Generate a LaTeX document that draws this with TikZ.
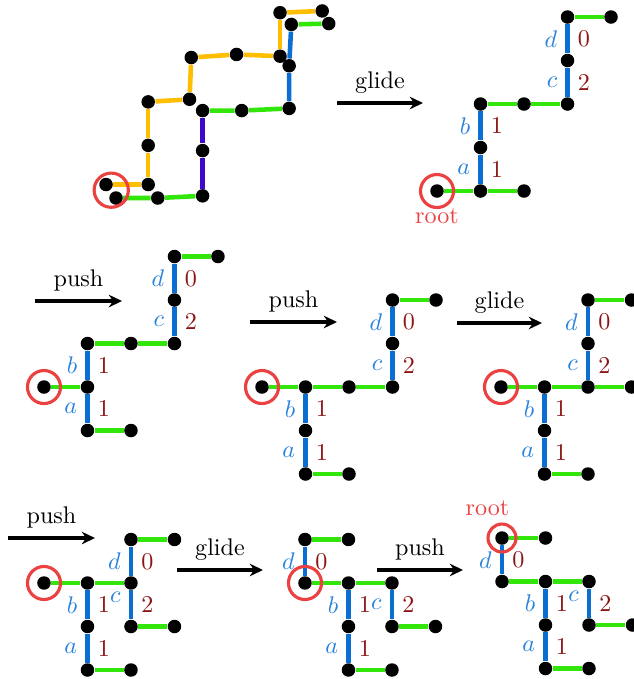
\documentclass[tikz,border=0pt]{standalone}
\usepackage{tikz}
\usetikzlibrary{arrows.meta, positioning, backgrounds}

\definecolor{bondgreen}{RGB}{50,230,10}
\definecolor{bondblue}{RGB}{10,110,210}
\definecolor{bondpurple}{RGB}{60,10,200}
\definecolor{trailorange}{RGB}{255,190,0}
\definecolor{ringred}{RGB}{235,65,65}
\definecolor{symblue}{RGB}{40,130,220}
\definecolor{numred}{RGB}{140,20,20}

\begin{document}
\begin{tikzpicture}[
        x=18.05pt, y=18.05pt,
        vertex/.style={circle, fill=black, minimum size=5.6pt, inner sep=0pt},
        link/.style={draw=bondgreen, line width=1.9pt},
        bond/.style={draw=bondblue, line width=1.9pt},
        twist/.style={draw=bondpurple, line width=1.9pt},
        trail/.style={draw=trailorange, line width=1.9pt},
        ring/.style={circle, draw=ringred, line width=1.3pt, minimum size=13.7pt, inner sep=0pt},
        rootlbl/.style={text=ringred, inner sep=1pt},
        sym/.style={left, text=symblue},
        num/.style={right, text=numred},
        move/.style={-{Stealth[length=5.5pt, width=5.2pt, inset=1.8pt]}, line width=1.4pt}
    ]

        \useasboundingbox (0,0) rectangle (14.552,-15.609);

        % ---- Starting configuration ----
        \begin{scope}[shift={(2.667,-4.552)}]
            \foreach \n/\x/\y in {0/-0.23/0.31, 1/0.74/0.31, 2/0.74/1.21, 3/0.74/2.21, 4/1.69/2.27,
                                  5/1.73/3.23, 6/2.77/3.30, 7/3.77/3.26, 8/3.77/4.26, 9/4.74/4.30}
                \node[vertex] (Ao\n) at (\x,\y) {};
            \foreach \n/\x/\y in {0/0/0, 1/0.96/0, 2/1.99/0.05, 3/1.99/1.09, 4/1.99/2.01,
                                  5/2.89/2.01, 6/3.98/2.06, 7/3.98/3.04, 8/4.03/3.99, 9/4.89/4.01}
                \node[vertex] (Ak\n) at (\x,\y) {};
            \begin{pgfonlayer}{background}
                \foreach \i [count=\j] in {0,...,8}
                    \draw[trail] (Ao\i) -- (Ao\j);
                \draw[link] (Ak0) -- (Ak1) -- (Ak2);
                \draw[twist] (Ak2) -- (Ak3) -- (Ak4);
                \draw[link] (Ak4) -- (Ak5) -- (Ak6);
                \draw[bond] (Ak6) -- (Ak7) -- (Ak8);
                \draw[link] (Ak8) -- (Ak9);
            \end{pgfonlayer}
            \node[ring, minimum size=14.2pt] (Aring) at (-0.11,0.18) {};
        \end{scope}

        % ---- After glide ----
        \begin{scope}[shift={(10.046,-4.391)}]
            \foreach \n/\x/\y in {r/0/0, a0/1/0, l1/2/0, ab/1/1, b1/1/2, m/2/2, c0/3/2, cd/3/3, d1/3/4, l2/4/4}
                \node[vertex] (B\n) at (\x,\y) {};
            \begin{pgfonlayer}{background}
                \draw[link] (Br) -- (Ba0) -- (Bl1);
                \draw[link] (Bb1) -- (Bm) -- (Bc0);
                \draw[link] (Bd1) -- (Bl2);
                \draw[bond] (Ba0) -- node[sym] {$a$} node[num] {1} (Bab);
                \draw[bond] (Bab) -- node[sym] {$b$} node[num] {1} (Bb1);
                \draw[bond] (Bc0) -- node[sym] {$c$} node[num] {2} (Bcd);
                \draw[bond] (Bcd) -- node[sym] {$d$} node[num] {0} (Bd1);
            \end{pgfonlayer}
            \node[ring] (Bring) at (Br) {};
            \node[rootlbl, below=-1.2pt of Bring] (Broot) {root};
        \end{scope}

        % ---- Second row ----
        \begin{scope}[shift={(1.011,-8.897)}]
            \foreach \n/\x/\y in {r/0/0, a0/1/-1, l1/2/-1, ab/1/0, b1/1/1, m/2/1, c0/3/1, cd/3/2, d1/3/3, l2/4/3}
                \node[vertex] (C\n) at (\x,\y) {};
            \begin{pgfonlayer}{background}
                \draw[link] (Cr) -- (Cab);
                \draw[link] (Ca0) -- (Cl1);
                \draw[link] (Cb1) -- (Cm) -- (Cc0);
                \draw[link] (Cd1) -- (Cl2);
                \draw[bond] (Ca0) -- node[sym] {$a$} node[num] {1} (Cab);
                \draw[bond] (Cab) -- node[sym] {$b$} node[num] {1} (Cb1);
                \draw[bond] (Cc0) -- node[sym] {$c$} node[num] {2} (Ccd);
                \draw[bond] (Ccd) -- node[sym] {$d$} node[num] {0} (Cd1);
            \end{pgfonlayer}
            \node[ring] (Cring) at (Cr) {};
        \end{scope}

        \begin{scope}[shift={(6.023,-8.897)}]
            \foreach \n/\x/\y in {r/0/0, b1/1/0, m/2/0, c0/3/0, ab/1/-1, a0/1/-2, l1/2/-2, cd/3/1, d1/3/2, l2/4/2}
                \node[vertex] (D\n) at (\x,\y) {};
            \begin{pgfonlayer}{background}
                \draw[link] (Dr) -- (Db1) -- (Dm) -- (Dc0);
                \draw[link] (Da0) -- (Dl1);
                \draw[link] (Dd1) -- (Dl2);
                \draw[bond] (Da0) -- node[sym] {$a$} node[num] {1} (Dab);
                \draw[bond] (Dab) -- node[sym] {$b$} node[num] {1} (Db1);
                \draw[bond] (Dc0) -- node[sym] {$c$} node[num] {2} (Dcd);
                \draw[bond] (Dcd) -- node[sym] {$d$} node[num] {0} (Dd1);
            \end{pgfonlayer}
            \node[ring] (Dring) at (Dr) {};
        \end{scope}

        \begin{scope}[shift={(11.517,-8.897)}]
            \foreach \n/\x/\y in {r/0/0, b1/1/0, c0/2/0, m/3/0, ab/1/-1, a0/1/-2, l1/2/-2, cd/2/1, d1/2/2, l2/3/2}
                \node[vertex] (E\n) at (\x,\y) {};
            \begin{pgfonlayer}{background}
                \draw[link] (Er) -- (Eb1) -- (Ec0) -- (Em);
                \draw[link] (Ea0) -- (El1);
                \draw[link] (Ed1) -- (El2);
                \draw[bond] (Ea0) -- node[sym] {$a$} node[num] {1} (Eab);
                \draw[bond] (Eab) -- node[sym] {$b$} node[num] {1} (Eb1);
                \draw[bond] (Ec0) -- node[sym] {$c$} node[num] {2} (Ecd);
                \draw[bond] (Ecd) -- node[sym] {$d$} node[num] {0} (Ed1);
            \end{pgfonlayer}
            \node[ring] (Ering) at (Er) {};
        \end{scope}

        % ---- Third row ----
        \begin{scope}[shift={(1.011,-13.402)}]
            \foreach \n/\x/\y in {r/0/0, b1/1/0, cd/2/0, ab/1/-1, a0/1/-2, l1/2/-2, d1/2/1, l2/3/1, c0/2/-1, m/3/-1}
                \node[vertex] (F\n) at (\x,\y) {};
            \begin{pgfonlayer}{background}
                \draw[link] (Fr) -- (Fb1) -- (Fcd);
                \draw[link] (Fa0) -- (Fl1);
                \draw[link] (Fd1) -- (Fl2);
                \draw[link] (Fc0) -- (Fm);
                \draw[bond] (Fa0) -- node[sym] {$a$} node[num] {1} (Fab);
                \draw[bond] (Fab) -- node[sym] {$b$} node[num] {1} (Fb1);
                \draw[bond] (Fc0) -- node[sym, yshift=3pt] {$c$} node[num] {2} (Fcd);
                \draw[bond] (Fcd) -- node[sym] {$d$} node[num] {0} (Fd1);
            \end{pgfonlayer}
            \node[ring] (Fring) at (Fr) {};
        \end{scope}

        \begin{scope}[shift={(7.011,-13.402)}]
            \foreach \n/\x/\y in {r/0/0, d1/0/1, l2/1/1, b1/1/0, c1/2/0, ab/1/-1, a0/1/-2, l1/2/-2, c0/2/-1, m/3/-1}
                \node[vertex] (G\n) at (\x,\y) {};
            \begin{pgfonlayer}{background}
                \draw[link] (Gr) -- (Gb1) -- (Gc1);
                \draw[link] (Gd1) -- (Gl2);
                \draw[link] (Ga0) -- (Gl1);
                \draw[link] (Gc0) -- (Gm);
                \draw[bond] (Gr) -- node[sym] {$d$} node[num] {0} (Gd1);
                \draw[bond] (Ga0) -- node[sym] {$a$} node[num] {1} (Gab);
                \draw[bond] (Gab) -- node[sym] {$b$} node[num] {1} (Gb1);
                \draw[bond] (Gc0) -- node[sym] {$c$} node[num] {2} (Gc1);
            \end{pgfonlayer}
            \node[ring] (Gring) at (Gr) {};
        \end{scope}

        \begin{scope}[shift={(11.540,-12.368)}]
            \foreach \n/\x/\y in {r/0/0, l2/1/0, d0/0/-1, b1/1/-1, c1/2/-1, ab/1/-2, a0/1/-3, l1/2/-3, c0/2/-2, m/3/-2}
                \node[vertex] (H\n) at (\x,\y) {};
            \begin{pgfonlayer}{background}
                \draw[link] (Hr) -- (Hl2);
                \draw[link] (Hd0) -- (Hb1) -- (Hc1);
                \draw[link] (Ha0) -- (Hl1);
                \draw[link] (Hc0) -- (Hm);
                \draw[bond] (Hd0) -- node[sym] {$d$} node[num] {0} (Hr);
                \draw[bond] (Ha0) -- node[sym] {$a$} node[num] {1} (Hab);
                \draw[bond] (Hab) -- node[sym] {$b$} node[num] {1} (Hb1);
                \draw[bond] (Hc0) -- node[sym, yshift=3pt] {$c$} node[num] {2} (Hc1);
            \end{pgfonlayer}
            \node[ring, minimum size=11.6pt] (Hring) at (Hr) {};
            \node[rootlbl, above=1.5pt of Hring, xshift=-6pt] (Hroot) {root};
        \end{scope}

        % ---- Moves between configurations ----
        \foreach \i/\xa/\xb/\yy/\word in {1/7.747/9.724/-2.368/glide, 2/0.805/2.805/-6.920/push,
                                          3/5.747/7.747/-7.402/push, 4/10.506/12.460/-7.425/glide,
                                          5/0.184/2.184/-12.368/push, 6/4.069/6.046/-13.103/glide,
                                          7/8.667/10.644/-13.103/push} {
            \coordinate (mv\i-a) at (\xa,\yy);
            \coordinate (mv\i-b) at (\xb,\yy);
            \draw[move] (mv\i-a) -- node[above] {\word} (mv\i-b);
        }

    \end{tikzpicture}
\end{document}
